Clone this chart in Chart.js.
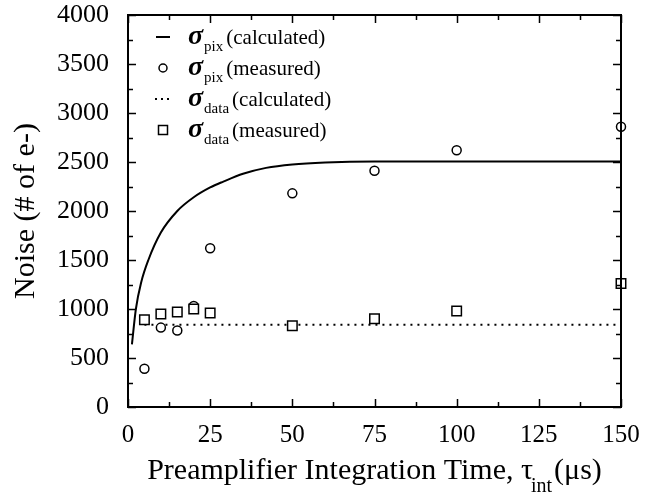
<!DOCTYPE html>
<html>
<head>
<meta charset="utf-8">
<script src="https://cdn.jsdelivr.net/npm/chart.js@4.4.0/dist/chart.umd.min.js"></script>
<style>
  html, body { margin: 0; padding: 0; background: #fff; }
  canvas { display: block; }
</style>
</head>
<body>
<canvas id="noiseChart" width="652" height="501"></canvas>
<script>
// integration time (us) for the measured points
const tauMeasured = [5, 10, 15, 20, 25, 50, 75, 100, 150];
const pixMeasured = [390, 810, 780, 1030, 1620, 2180, 2410, 2620, 2860];
const tauData = [5, 10, 15, 20, 25, 50, 75, 100, 150];
const dataMeasured = [890, 950, 970, 1000, 960, 830, 900, 980, 1260];

// calculated pixel noise curve
const tauCalc = [1.2, 2.4, 4, 6.2, 10, 15, 20, 25, 29, 35, 42, 50, 60, 75, 100, 150];
const pixCalc = [640, 1000, 1270, 1500, 1780, 2000, 2140, 2240, 2300, 2380, 2440, 2475, 2495, 2505, 2505, 2505];

// calculated data line noise (flat)
const tauDataCalc = [5, 150];
const dataCalc = [840, 840];

const xTicks = [0, 25, 50, 75, 100, 125, 150];
const yTicks = [0, 500, 1000, 1500, 2000, 2500, 3000, 3500, 4000];

const SERIF = '"Liberation Serif", "Times New Roman", serif';

function toPoints(xs, ys) {
    return xs.map((x, i) => ({ x: x, y: ys[i] }));
}

// frame with inward ticks on all four sides, legend and axis titles
const framePlugin = {
    id: 'frame',
    afterDraw(chart) {
        const ctx = chart.ctx;
        const a = chart.chartArea;
        const xs = chart.scales.x;
        const ys = chart.scales.y;

        ctx.save();
        ctx.strokeStyle = '#000';
        ctx.lineWidth = 2;
        ctx.strokeRect(a.left, a.top, a.right - a.left, a.bottom - a.top);

        ctx.lineWidth = 1.5;
        ctx.beginPath();
        for (let v = 0; v <= 150; v += 12.5) {
            const len = v % 25 === 0 ? 8 : 5;
            const px = Math.round(xs.getPixelForValue(v)) + 0.5;
            ctx.moveTo(px, a.bottom);
            ctx.lineTo(px, a.bottom - len);
            ctx.moveTo(px, a.top);
            ctx.lineTo(px, a.top + len);
        }
        for (let v = 0; v <= 4000; v += 250) {
            const len = v % 500 === 0 ? 8 : 5;
            const py = Math.round(ys.getPixelForValue(v)) + 0.5;
            ctx.moveTo(a.left, py);
            ctx.lineTo(a.left + len, py);
            ctx.moveTo(a.right, py);
            ctx.lineTo(a.right - len, py);
        }
        ctx.stroke();

        // legend
        const rows = [
            { sym: 'line', sub: 'pix', label: '(calculated)' },
            { sym: 'circle', sub: 'pix', label: '(measured)' },
            { sym: 'dots', sub: 'data', label: '(calculated)' },
            { sym: 'square', sub: 'data', label: '(measured)' }
        ];
        const symX = 163;
        rows.forEach((row, i) => {
            const base = 44 + i * 31;
            const cy = base - 7;
            ctx.strokeStyle = '#000';
            ctx.fillStyle = '#fff';
            if (row.sym === 'line') {
                ctx.lineWidth = 2;
                ctx.beginPath();
                ctx.moveTo(symX - 7, cy);
                ctx.lineTo(symX + 7, cy);
                ctx.stroke();
            } else if (row.sym === 'circle') {
                ctx.lineWidth = 1.5;
                ctx.beginPath();
                ctx.arc(symX, cy, 4, 0, Math.PI * 2);
                ctx.stroke();
            } else if (row.sym === 'dots') {
                ctx.lineWidth = 2;
                ctx.setLineDash([2, 4]);
                ctx.beginPath();
                ctx.moveTo(symX - 8, cy);
                ctx.lineTo(symX + 8, cy);
                ctx.stroke();
                ctx.setLineDash([]);
            } else {
                ctx.lineWidth = 1.5;
                ctx.fillRect(symX - 4.5, cy - 4.5, 9, 9);
                ctx.strokeRect(symX - 4.5, cy - 4.5, 9, 9);
            }

            ctx.fillStyle = '#000';
            ctx.textBaseline = 'alphabetic';
            ctx.textAlign = 'left';
            let x = 188;
            ctx.font = 'italic bold 28px ' + SERIF;
            ctx.fillText('\u03C3', x, base);
            x += ctx.measureText('\u03C3').width + 1;
            ctx.font = '15px ' + SERIF;
            ctx.fillText(row.sub, x, base + 7);
            x += ctx.measureText(row.sub).width + 3;
            ctx.font = '21px ' + SERIF;
            ctx.fillText(row.label, x, base);
        });

        // y axis title
        ctx.font = '30px ' + SERIF;
        ctx.textAlign = 'center';
        ctx.textBaseline = 'middle';
        ctx.save();
        ctx.translate(26, (a.top + a.bottom) / 2);
        ctx.rotate(-Math.PI / 2);
        ctx.fillText('Noise (# of e-)', 0, 0);
        ctx.restore();

        // x axis title with subscript
        const partA = 'Preamplifier Integration Time, \u03C4';
        const partSub = 'int';
        const partB = '(\u03BCs)';
        ctx.textAlign = 'left';
        ctx.textBaseline = 'alphabetic';
        ctx.font = '30px ' + SERIF;
        const wA = ctx.measureText(partA).width;
        const wB = ctx.measureText(partB).width;
        ctx.font = '20px ' + SERIF;
        const wS = ctx.measureText(partSub).width;
        let tx = (a.left + a.right) / 2 - (wA + wS + wB) / 2;
        const tBase = 479;
        ctx.font = '30px ' + SERIF;
        ctx.fillText(partA, tx, tBase);
        tx += wA;
        ctx.font = '20px ' + SERIF;
        ctx.fillText(partSub, tx - 2, tBase + 13);
        tx += wS;
        ctx.font = '30px ' + SERIF;
        ctx.fillText(partB, tx, tBase);

        ctx.restore();
    }
};

new Chart(document.getElementById('noiseChart'), {
    type: 'scatter',
    data: {
        datasets: [
            {
                label: 'sigma_data (measured)',
                data: toPoints(tauData, dataMeasured),
                pointStyle: 'rect',
                pointRadius: 6.7,
                pointBorderWidth: 1.5,
                borderColor: '#000',
                backgroundColor: '#fff',
                clip: false,
                order: 0
            },
            {
                label: 'sigma_pix (measured)',
                data: toPoints(tauMeasured, pixMeasured),
                pointStyle: 'circle',
                pointRadius: 4.5,
                pointBorderWidth: 1.5,
                borderColor: '#000',
                backgroundColor: '#fff',
                clip: false,
                order: 1
            },
            {
                label: 'sigma_pix (calculated)',
                data: toPoints(tauCalc, pixCalc),
                showLine: true,
                pointRadius: 0,
                borderColor: '#000',
                borderWidth: 2,
                cubicInterpolationMode: 'monotone',
                clip: false,
                order: 2
            },
            {
                label: 'sigma_data (calculated)',
                data: toPoints(tauDataCalc, dataCalc),
                showLine: true,
                pointRadius: 0,
                borderColor: '#000',
                borderWidth: 2,
                borderDash: [2, 5],
                clip: false,
                order: 3
            }
        ]
    },
    options: {
        responsive: false,
        animation: false,
        devicePixelRatio: 1,
        layout: { padding: { top: 15, right: 31, left: 0, bottom: 0 } },
        plugins: {
            legend: { display: false },
            tooltip: { enabled: false }
        },
        scales: {
            x: {
                type: 'linear',
                min: 0,
                max: 150,
                afterBuildTicks: (scale) => { scale.ticks = xTicks.map(v => ({ value: v })); },
                afterFit: (scale) => {
                    scale.height = 94;
                    scale.paddingLeft = 0;
                    scale.paddingRight = 0;
                },
                grid: { display: false },
                border: { display: false },
                ticks: {
                    color: '#000',
                    padding: 5,
                    maxRotation: 0,
                    font: { family: SERIF, size: 25 },
                    callback: (value) => String(value)
                }
            },
            y: {
                type: 'linear',
                min: 0,
                max: 4000,
                afterBuildTicks: (scale) => { scale.ticks = yTicks.map(v => ({ value: v })); },
                afterFit: (scale) => {
                    scale.width = 128;
                    scale.paddingTop = 0;
                    scale.paddingBottom = 0;
                },
                grid: { display: false },
                border: { display: false },
                ticks: {
                    color: '#000',
                    padding: 11,
                    font: { family: SERIF, size: 26 },
                    callback: (value) => String(value)
                }
            }
        }
    },
    plugins: [framePlugin]
});
</script>
</body>
</html>
